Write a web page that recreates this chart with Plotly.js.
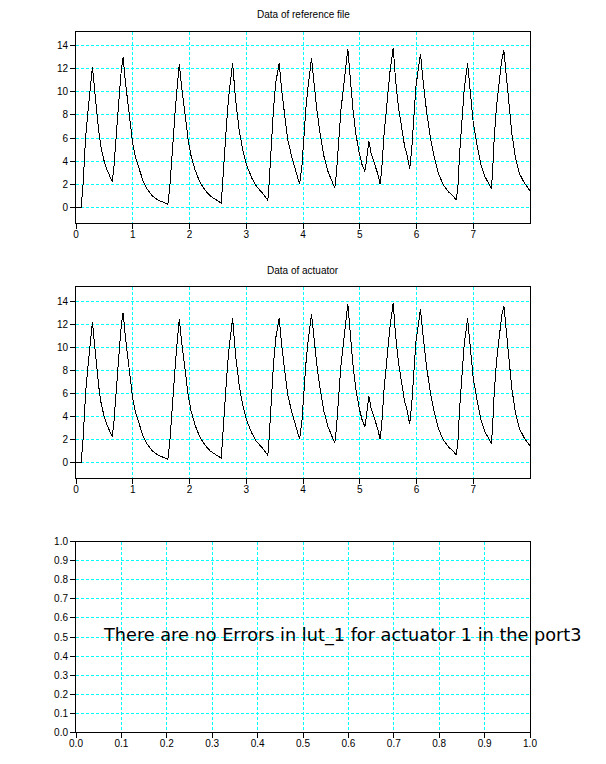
<!DOCTYPE html>
<html>
<head>
<meta charset="utf-8">
<script src="https://cdn.plot.ly/plotly-3.0.1.min.js"></script>
<style>
html,body{margin:0;padding:0;background:#fff;}
#chart{width:606px;height:764px;}
#chart path{shape-rendering:crispEdges;}
</style>
</head>
<body>
<div id="chart"></div>
<script>
// Time axis (s) for the sampled signals
var timeValues = [
  0, 0.09, 0.12, 0.14, 0.17, 0.21, 0.25, 0.29, 0.32, 0.36, 0.40, 0.44, 0.49, 0.55, 0.60, 0.64,
  0.67, 0.70, 0.73, 0.77, 0.80, 0.83, 0.87, 0.92, 0.97, 1.00, 1.05, 1.11, 1.18, 1.25, 1.35, 1.45, 1.55, 1.62,
  1.66, 1.69, 1.72, 1.75, 1.78, 1.82, 1.86, 1.92, 1.98, 2.03, 2.10, 2.18, 2.27, 2.37, 2.47, 2.56,
  2.58, 2.61, 2.65, 2.69, 2.73, 2.76, 2.81, 2.88, 2.95, 3.01, 3.10, 3.18, 3.29, 3.38,
  3.40, 3.44, 3.48, 3.52, 3.58, 3.63, 3.68, 3.73, 3.80, 3.86, 3.94,
  3.98, 4.01, 4.05, 4.09, 4.15, 4.20, 4.25, 4.31, 4.37, 4.44, 4.51, 4.56,
  4.59, 4.63, 4.67, 4.73, 4.79, 4.84, 4.88, 4.93, 4.99, 5.04, 5.09,
  5.12, 5.16, 5.20, 5.26, 5.31, 5.36,
  5.39, 5.43, 5.48, 5.53, 5.59, 5.63, 5.68, 5.74, 5.79, 5.84, 5.88,
  5.92, 5.95, 5.99, 6.03, 6.07, 6.12, 6.18, 6.25, 6.31, 6.38, 6.47, 6.56, 6.65, 6.70,
  6.73, 6.76, 6.80, 6.84, 6.90, 6.95, 7.00, 7.07, 7.13, 7.20, 7.32,
  7.34, 7.37, 7.41, 7.46, 7.50, 7.54, 7.59, 7.63, 7.68, 7.74, 7.81, 7.90, 8.00
];
// Data of reference file
var referenceValues = [
  0, 0, 1.6, 4.0, 6.1, 8.3, 10.2, 12.2, 10.6, 8.4, 6.6, 5.2, 4.1, 3.2, 2.6, 2.2,
  3.6, 5.8, 7.9, 10.2, 12.0, 13.0, 10.9, 8.6, 6.5, 5.5, 4.3, 3.3, 2.3, 1.6, 0.95, 0.6, 0.38, 0.26,
  2.2, 4.6, 6.7, 8.5, 10.3, 12.4, 10.5, 8.0, 5.7, 4.4, 3.2, 2.2, 1.5, 0.95, 0.6, 0.35,
  1.8, 4.4, 7.0, 9.6, 11.6, 12.5, 9.4, 6.5, 4.7, 3.6, 2.5, 1.8, 1.2, 0.6,
  1.8, 5.8, 8.5, 10.8, 12.5, 9.9, 7.6, 5.9, 4.4, 3.3, 2.0,
  3.5, 5.9, 8.5, 10.5, 12.9, 10.5, 8.2, 6.1, 4.4, 3.1, 2.2, 1.65,
  3.0, 5.6, 8.5, 11.1, 13.75, 10.8, 8.5, 6.4, 4.7, 3.7, 3.1,
  4.1, 5.75, 4.7, 3.8, 3.0, 2.0,
  3.5, 6.4, 9.3, 11.65, 13.85, 11.1, 8.75, 6.7, 5.3, 4.4, 3.3,
  5.3, 7.9, 10.5, 11.9, 13.3, 10.8, 8.2, 5.9, 4.4, 3.0, 1.95, 1.35, 0.93, 0.6,
  1.8, 4.7, 7.6, 10.2, 12.5, 9.6, 7.3, 5.3, 3.8, 2.7, 1.62,
  3.0, 6.1, 8.75, 11.1, 12.7, 13.6, 11.1, 9.0, 6.4, 4.4, 2.95, 2.1, 1.42
];
// Data of actuator (reads the same as the reference)
var actuatorValues = [
  0, 0, 1.6, 4.0, 6.1, 8.3, 10.2, 12.2, 10.6, 8.4, 6.6, 5.2, 4.1, 3.2, 2.6, 2.2,
  3.6, 5.8, 7.9, 10.2, 12.0, 13.0, 10.9, 8.6, 6.5, 5.5, 4.3, 3.3, 2.3, 1.6, 0.95, 0.6, 0.38, 0.26,
  2.2, 4.6, 6.7, 8.5, 10.3, 12.4, 10.5, 8.0, 5.7, 4.4, 3.2, 2.2, 1.5, 0.95, 0.6, 0.35,
  1.8, 4.4, 7.0, 9.6, 11.6, 12.5, 9.4, 6.5, 4.7, 3.6, 2.5, 1.8, 1.2, 0.6,
  1.8, 5.8, 8.5, 10.8, 12.5, 9.9, 7.6, 5.9, 4.4, 3.3, 2.0,
  3.5, 5.9, 8.5, 10.5, 12.9, 10.5, 8.2, 6.1, 4.4, 3.1, 2.2, 1.65,
  3.0, 5.6, 8.5, 11.1, 13.75, 10.8, 8.5, 6.4, 4.7, 3.7, 3.1,
  4.1, 5.75, 4.7, 3.8, 3.0, 2.0,
  3.5, 6.4, 9.3, 11.65, 13.85, 11.1, 8.75, 6.7, 5.3, 4.4, 3.3,
  5.3, 7.9, 10.5, 11.9, 13.3, 10.8, 8.2, 5.9, 4.4, 3.0, 1.95, 1.35, 0.93, 0.6,
  1.8, 4.7, 7.6, 10.2, 12.5, 9.6, 7.3, 5.3, 3.8, 2.7, 1.62,
  3.0, 6.1, 8.75, 11.1, 12.7, 13.6, 11.1, 9.0, 6.4, 4.4, 2.95, 2.1, 1.42
];
var timeTickVals = [0, 1, 2, 3, 4, 5, 6, 7];
var titleTexts = ["Data of reference file", "Data of actuator"];
var messageText = "There are no Errors in lut_1 for actuator 1 in the port3";

var FONT = "Liberation Sans, Arial, sans-serif";
var W = 606, H = 764;
function py(p) { return 1 - p / H; }

function baseAxis(extra) {
  var a = {
    showline: true, mirror: true, linecolor: "#000", linewidth: 1,
    ticks: "outside", ticklen: 5, tickcolor: "#000", tickwidth: 1,
    showgrid: true, gridcolor: "#00FFFF", gridwidth: 1, griddash: "3px,2px",
    zeroline: false, fixedrange: true,
    tickfont: {family: FONT, size: 10, color: "#000"}
  };
  for (var k in extra) a[k] = extra[k];
  return a;
}
// overlay axis carrying only the small minor ticks
function minorAxis(extra) {
  var a = {
    showline: false, showgrid: false, zeroline: false, showticklabels: false,
    ticks: "outside", ticklen: 3, tickcolor: "#000", tickwidth: 1, fixedrange: true, tick0: 0
  };
  for (var k in extra) a[k] = extra[k];
  return a;
}

var xDom = [76 / W, 530 / W];
var yDom1 = [py(223.3), py(32)], yDom2 = [py(478.3), py(287.3)], yDom3 = [py(732.3), py(541.7)];

var traces = [
  {x: timeValues, y: referenceValues, type: "scatter", mode: "lines",
   line: {color: "#000", width: 1}, xaxis: "x", yaxis: "y", hoverinfo: "skip"},
  {x: timeValues, y: actuatorValues, type: "scatter", mode: "lines",
   line: {color: "#000", width: 1}, xaxis: "x2", yaxis: "y2", hoverinfo: "skip"},
  {x: [], y: [], type: "scatter", mode: "lines", xaxis: "x3", yaxis: "y3", hoverinfo: "skip"}
];

var layout = {
  width: W, height: H,
  margin: {l: 0, r: 0, t: 0, b: 0},
  paper_bgcolor: "#fff", plot_bgcolor: "#fff",
  showlegend: false,
  font: {family: FONT, size: 10, color: "#000"},
  xaxis: baseAxis({domain: xDom, anchor: "y", range: [0, 8], tickvals: timeTickVals, ticklabelstandoff: -3}),
  yaxis: baseAxis({domain: yDom1, anchor: "x", range: [-1.4, 15.2], dtick: 2, tick0: 0}),
  xaxis2: baseAxis({domain: xDom, anchor: "y2", range: [0, 8], tickvals: timeTickVals, ticklabelstandoff: -3}),
  yaxis2: baseAxis({domain: yDom2, anchor: "x2", range: [-1.4, 15.2], dtick: 2, tick0: 0}),
  xaxis3: baseAxis({domain: xDom, anchor: "y3", range: [0, 1], dtick: 0.1, tick0: 0, tickformat: ".1f", ticklabelstandoff: -3}),
  yaxis3: baseAxis({domain: yDom3, anchor: "x3", range: [0, 1], dtick: 0.1, tick0: 0, tickformat: ".1f"}),
  xaxis4: minorAxis({overlaying: "x", anchor: "y", side: "bottom", domain: xDom, range: [0, 8], dtick: 0.5}),
  yaxis4: minorAxis({overlaying: "y", anchor: "x", side: "left", domain: yDom1, range: [-1.4, 15.2], dtick: 1}),
  xaxis5: minorAxis({overlaying: "x2", anchor: "y2", side: "bottom", domain: xDom, range: [0, 8], dtick: 0.5}),
  yaxis5: minorAxis({overlaying: "y2", anchor: "x2", side: "left", domain: yDom2, range: [-1.4, 15.2], dtick: 1}),
  xaxis6: minorAxis({overlaying: "x3", anchor: "y3", side: "bottom", domain: xDom, range: [0, 1], dtick: 0.05}),
  yaxis6: minorAxis({overlaying: "y3", anchor: "x3", side: "left", domain: yDom3, range: [0, 1], dtick: 0.05}),
  annotations: [
    {text: titleTexts[0], xref: "paper", yref: "paper", x: 303 / W, y: py(15),
     xanchor: "center", yanchor: "middle", showarrow: false,
     font: {family: FONT, size: 10, color: "#000"}},
    {text: titleTexts[1], xref: "paper", yref: "paper", x: 303 / W, y: py(270),
     xanchor: "center", yanchor: "middle", showarrow: false,
     font: {family: FONT, size: 10, color: "#000"}},
    {text: messageText, xref: "x3", yref: "y3", x: 0.055, y: 0.51,
     xanchor: "left", yanchor: "middle", showarrow: false,
     font: {family: "DejaVu Sans, sans-serif", size: 17.7, color: "#000"}}
  ]
};

Plotly.newPlot("chart", traces, layout, {staticPlot: true, displayModeBar: false});
</script>
</body>
</html>
